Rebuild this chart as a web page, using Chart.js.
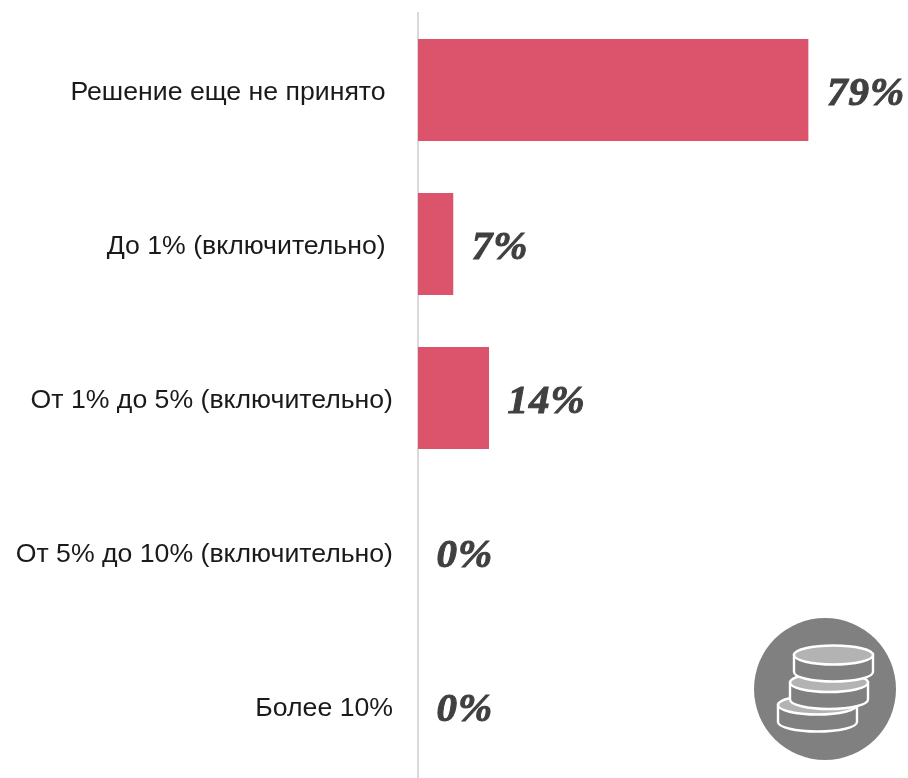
<!DOCTYPE html>
<html><head><meta charset="utf-8">
<style>
html,body{margin:0;padding:0;background:#fff;overflow:hidden;width:908px;height:778px}
#w{position:relative;width:908px;height:778px;overflow:hidden}
canvas{position:absolute;left:0;top:0}
svg{position:absolute;left:0;top:0}
</style>
<script src="https://cdn.jsdelivr.net/npm/chart.js@4"></script>
</head><body><div id="w"><canvas id="c" width="908" height="800" style="width:908px;height:800px"></canvas>
<svg width="908" height="778" viewBox="0 0 908 778">
<circle cx="825" cy="689" r="71" fill="#808080"/>
<g stroke="#fff" stroke-width="2.4" fill="#808080">
<path d="M778 705v17a39.5 9.5 0 0 0 79 0v-17z"/><ellipse cx="817.5" cy="705" rx="39.5" ry="9.5" fill="#b3b3b3"/>
<path d="M790 682.5v17a39 9.5 0 0 0 78 0v-17z"/><ellipse cx="829" cy="682.5" rx="39" ry="9.5" fill="#b3b3b3"/>
<path d="M794 655v17a39.5 9.5 0 0 0 79 0v-17z"/><ellipse cx="833.5" cy="655" rx="39.5" ry="9.5" fill="#b3b3b3"/>
</g></svg></div>
<script>
const categories = ["Решение еще не принято ", "До 1% (включительно) ", "От 1% до 5% (включительно)", "От 5% до 10% (включительно)", "Более 10%"];
const values = [78.6, 7.1, 14.3, 0, 0];
const valueLabels = ["79%", "7%", "14%", "0%", "0%"];

const endLabels = {
  id: 'endLabels',
  afterDatasetsDraw(chart) {
    const ctx = chart.ctx, meta = chart.getDatasetMeta(0);
    ctx.save();
    ctx.font = 'italic bold 41px "Liberation Serif"';
    ctx.letterSpacing = '1px';
    ctx.fillStyle = '#404040';
    ctx.strokeStyle = '#404040';
    ctx.lineWidth = 1;
    ctx.textAlign = 'left';
    ctx.textBaseline = 'middle';
    meta.data.forEach((bar, i) => {
      ctx.fillText(valueLabels[i], bar.x + 18.5, bar.y + 4);
      ctx.strokeText(valueLabels[i], bar.x + 18.5, bar.y + 4);
    });
    ctx.restore();
  }
};

new Chart(document.getElementById('c'), {
  type: 'bar',
  data: { labels: categories, datasets: [{ data: values, backgroundColor: '#dc546c', borderWidth: 0, barPercentage: 1, categoryPercentage: 0.662 }] },
  options: {
    indexAxis: 'y',
    responsive: false,
    animation: false,
    layout: { padding: { top: 13, bottom: 17, right: 43, left: 0 } },
    plugins: { legend: { display: false }, tooltip: { enabled: false } },
    scales: {
      x: { display: false, min: 0, max: 90 },
      y: {
        afterFit(s) { s.width = 418; s.paddingTop = 0; s.paddingBottom = 0; },
        grid: { display: true, drawOnChartArea: false, drawTicks: false },
        border: { display: true, color: '#d9d9d9', width: 2 },
        ticks: { color: '#1a1a1a', padding: 25, labelOffset: 2.5, font: { family: '"Liberation Sans"', size: 26.67 }, autoSkip: false }
      }
    }
  },
  plugins: [endLabels]
});
</script></body></html>
